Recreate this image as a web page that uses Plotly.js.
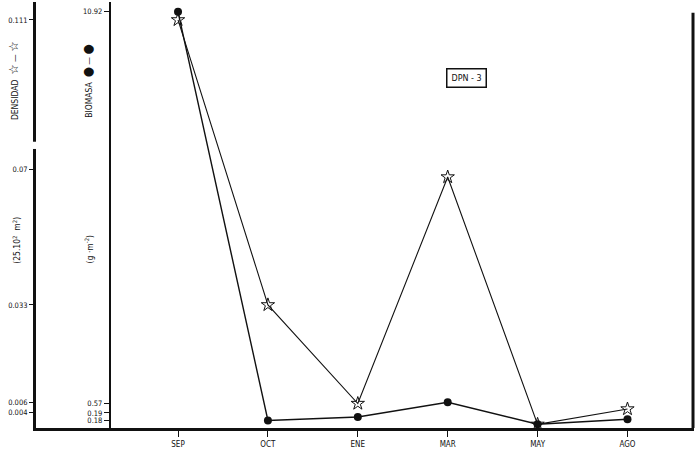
<!DOCTYPE html>
<html><head><meta charset="utf-8">
<script src="https://cdn.plot.ly/plotly-3.0.1.min.js"></script>
<style>html,body{margin:0;padding:0;background:#fff}#chart{width:700px;height:449px}</style>
</head><body><div id="chart"></div>
<script>
const months = ["SEP","OCT","ENE","MAR","MAY","AGO"];
const densidad = [0.111, 0.033, 0.006, 0.068, 0.0003, 0.0045];
const biomasa = [10.92, 0.11, 0.20, 0.59, 0.01, 0.14];
const densTickVals = [0.111, 0.07, 0.033, 0.0062, 0.0036];
const densTickText = ["0.111", "0.07", "0.033", "0.006", "0.004"];
const bioTickVals = [10.92, 0.57, 0.31, 0.10];
const bioTickText = ["10.92", "0.57", "0.19", "0.18"];
const xIdx = months.map((m, i) => i);

const font = {family: "Liberation Sans Narrow, DejaVu Sans Condensed, Arial Narrow, sans-serif", size: 8, color: "#111"};
const smallFont = {family: "Liberation Sans Narrow, DejaVu Sans Condensed, Arial Narrow, sans-serif", size: 7.5, color: "#111"};
const labFont = {family: "DejaVu Sans Condensed, DejaVu Sans, sans-serif", size: 8.5, color: "#111"};

const traces = [
  {x: xIdx, y: densidad, yaxis: "y", mode: "lines+markers", type: "scatter",
   line: {color: "#111", width: 1.1},
   marker: {symbol: "star-open", size: 10, color: "#111", line: {width: 1}},
   showlegend: false, cliponaxis: false},
  {x: xIdx, y: biomasa, yaxis: "y2", mode: "lines+markers", type: "scatter",
   line: {color: "#111", width: 1.4},
   marker: {symbol: "circle", size: 8, color: "#111"},
   showlegend: false, cliponaxis: false}
];

const big = s => '<span style="font-size:13px">' + s + '</span>';

const layout = {
  width: 700, height: 449,
  margin: {l: 36, r: 6, t: 2, b: 21},
  paper_bgcolor: "#fff", plot_bgcolor: "#fff",
  font: font,
  xaxis: {range: [-1.58, 5.74], tickvals: xIdx, ticktext: months,
    showgrid: false, zeroline: false, showline: true, linecolor: "#111", linewidth: 3,
    ticks: "outside", ticklen: 6, tickcolor: "#111", tickwidth: 1,
    tickfont: font},
  yaxis: {range: [-0.0007, 0.1159], tickvals: densTickVals, ticktext: densTickText,
    showgrid: false, zeroline: false, showline: true, linecolor: "#111", linewidth: 3,
    ticks: "outside", ticklen: 4, tickcolor: "#111", tickfont: smallFont},
  yaxis2: {range: [-0.09, 11.18], overlaying: "y", anchor: "free", position: 0.1123, side: "left",
    tickvals: bioTickVals, ticktext: bioTickText,
    showgrid: false, zeroline: false, showline: true, linecolor: "#111", linewidth: 2,
    ticks: "outside", ticklen: 5, tickcolor: "#111", tickfont: smallFont},
  shapes: [
    {type: "line", xref: "paper", yref: "paper", x0: 0.9985, x1: 0.9985, y0: 0, y1: 0.975,
     line: {color: "#111", width: 3}},
    {type: "rect", xref: "paper", yref: "paper", x0: -0.006, x1: 0.006, y0: 0.655, y1: 0.672,
     line: {width: 0}, fillcolor: "#fff"}
  ],
  annotations: [
    {text: "DENSIDAD  " + big("☆") + " — " + big("☆"), xref: "paper", yref: "paper", x: -0.033, y: 0.815, textangle: -90,
     xanchor: "center", yanchor: "middle", showarrow: false, font: labFont},
    {text: "(25.10<sup>2</sup>  m<sup>2</sup>)", xref: "paper", yref: "paper", x: -0.030, y: 0.44, textangle: -90,
     xanchor: "center", yanchor: "middle", showarrow: false, font: labFont},
    {text: "BIOMASA  " + big("●") + " — " + big("●"), xref: "paper", yref: "paper", x: 0.079, y: 0.815, textangle: -90,
     xanchor: "center", yanchor: "middle", showarrow: false, font: labFont},
    {text: "(g ·m<sup>-2</sup>)", xref: "paper", yref: "paper", x: 0.081, y: 0.42, textangle: -90,
     xanchor: "center", yanchor: "middle", showarrow: false, font: labFont},
    {text: "DPN - 3", xref: "paper", yref: "paper", x: 0.655, y: 0.822, showarrow: false,
     xanchor: "center", yanchor: "middle",
     bordercolor: "#111", borderwidth: 1.5, borderpad: 4,
     font: {family: "DejaVu Sans, sans-serif", size: 8, color: "#111"}}
  ]
};
Plotly.newPlot("chart", traces, layout, {staticPlot: true, displayModeBar: false});
</script></body></html>
